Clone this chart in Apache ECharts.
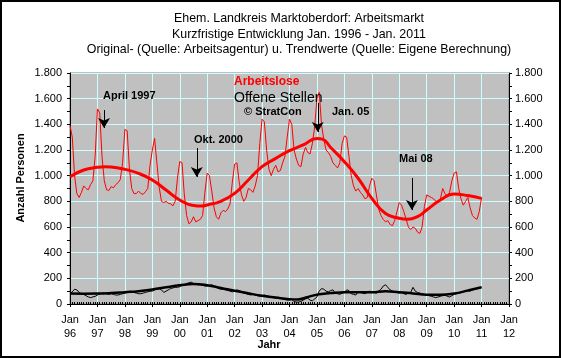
<!DOCTYPE html>
<html><head><meta charset="utf-8">
<script src="https://cdn.jsdelivr.net/npm/echarts@6/dist/echarts.min.js"></script>
<style>html,body{margin:0;padding:0;background:#fff}#c{width:561px;height:358px}</style>
</head><body><div id="c"></div><script>
// Monthly values starting Jan 1996 (one per month) up to Jan 2011
const startYear = 1996;
const arbeitslose = [
  1390,1300,1000,860,830,870,920,900,890,930,960,1150,
  1520,1490,1150,960,890,885,915,905,930,945,970,1100,
  1360,1350,1050,900,860,860,880,860,855,875,900,1080,
  1200,1290,1100,910,800,790,800,785,780,765,800,980,
  1110,1100,850,690,625,640,680,640,650,660,690,870,
  1020,1000,880,750,680,660,710,730,720,740,780,950,
  1090,1100,950,850,800,830,900,890,870,920,1000,1250,
  1440,1420,1200,1050,1000,1050,1080,1030,1040,1100,1150,1300,
  1440,1400,1200,1130,1080,1070,1170,1220,1180,1170,1250,1380,
  1600,1650,1400,1280,1200,1180,1150,1100,1080,1060,1100,1250,
  1310,1300,1150,1000,920,880,900,870,850,820,830,920,
  980,960,850,740,690,660,640,650,620,610,650,720,
  790,770,720,660,600,580,600,590,560,550,600,760,
  850,840,830,820,800,790,820,900,860,840,870,960,
  1020,1030,900,820,770,800,830,750,690,670,660,720,
  830
];
const offeneStellen = [
  80,95,115,110,90,80,75,65,55,50,55,60,
  70,80,85,85,80,75,80,75,70,70,75,80,
  85,90,95,95,90,85,80,80,85,90,95,100,
  100,110,115,120,110,90,100,110,120,125,130,130,
  135,145,150,160,165,170,160,155,150,150,145,140,
  140,145,150,140,130,120,115,115,110,105,100,95,
  100,110,105,95,85,80,75,70,75,70,65,60,
  65,70,65,60,55,50,45,50,45,40,35,30,
  30,35,20,15,15,20,30,40,45,30,25,40,
  55,100,120,115,100,95,105,110,85,80,75,85,
  90,110,105,80,75,70,95,90,85,80,90,100,
  95,90,85,100,115,140,150,130,110,100,95,90,
  85,90,80,75,85,90,130,100,90,85,80,75,
  70,65,60,55,50,55,60,65,70,60,55,65,
  75,80,85,90,95,100,105,100,110,115,120,125,
  130
];
// Trend values (read at selected dates, decimal years)
const trendAlDates = [1996,1996.5,1997,1997.3,1997.5,1998,1998.5,1999,1999.5,2000,2000.5,2000.8,2001,2001.5,2002,2002.5,2003,2003.5,2004,2004.5,2005,2005.2,2005.5,2006,2006.5,2007,2007.5,2008,2008.3,2008.7,2009,2009.5,2010,2010.5,2011];
const trendAlValues = [992,1044,1065,1070,1068,1049,1018,966,888,810,768,764,772,800,862,966,1070,1135,1195,1239,1290,1285,1220,1109,980,823,705,668,660,685,733,810,857,845,823];
const trendOsDates = [1996,1996.5,1997,1997.5,1998,1998.5,1999,1999.5,2000,2000.5,2001,2001.5,2002,2002.5,2003,2003.5,2004,2004.3,2004.6,2005,2005.5,2006,2006.5,2007,2007.5,2008,2008.5,2009,2009.5,2010,2010.5,2011];
const trendOsValues = [81,80,81,85,92,100,113,130,146,155,146,125,103,83,65,50,38,36,50,73,85,92,92,92,100,92,82,73,72,81,105,130];
const xTickLabels = ['96','97','98','99','00','01','02','03','04','05','06','07','08','09','10','11','12'];
const titleLines = ['Ehem. Landkreis Marktoberdorf: Arbeitsmarkt','Kurzfristige Entwicklung Jan. 1996 - Jan. 2011','Original- (Quelle: Arbeitsagentur) u. Trendwerte (Quelle: Eigene Berechnung)'];
// Arrow annotations: [date, from value, to value]
const arrows = [[1997.24,1511,1371],[2000.62,1215,990],[2005.03,1566,1340],[2008.46,982,732]];

const FONT = 'Arial, "Liberation Sans", sans-serif';
const fmtY = v => v >= 1000 ? String(v).replace(/(\d)(\d{3})$/, '$1.$2') : String(v);

const chart = echarts.init(document.getElementById('c'));
const yAxisBase = {
  type: 'value', min: 0, max: 1800, interval: 200,
  axisLine: {show: true, lineStyle: {color: '#000', width: 1}},
  axisTick: {show: true, length: 3, lineStyle: {color: '#000'}},
  minorTick: {show: true, splitNumber: 2, length: 3, lineStyle: {color: '#000'}},
  axisLabel: {formatter: fmtY, color: '#000', fontFamily: FONT, fontSize: 11}
};
chart.setOption({
  animation: false,
  grid: {left: 70, right: 52, top: 73, bottom: 54, show: true, backgroundColor: '#c0c0c0', borderColor: '#808080', borderWidth: 1},
  xAxis: [{
    type: 'value', min: 1996, max: 2012, interval: 1,
    axisLine: {show: true, onZero: false, lineStyle: {color: '#000'}},
    axisTick: {show: true, length: 3, lineStyle: {color: '#000'}},
    splitLine: {show: true, lineStyle: {color: '#ccffff', width: 1}},
    axisLabel: {color: '#000', fontFamily: FONT, fontSize: 11, lineHeight: 14, margin: 9,
      formatter: v => 'Jan\n' + xTickLabels[Math.round(v - startYear)]}
  }, {
    type: 'value', min: 1996, max: 2012, interval: 1, position: 'bottom',
    axisLine: {show: false}, axisLabel: {show: false}, splitLine: {show: false},
    axisTick: {show: true, inside: true, length: 2, lineStyle: {color: '#000'}},
    minorTick: {show: true, splitNumber: 12, length: 2, lineStyle: {color: '#000'}}
  }],
  yAxis: [
    Object.assign({}, yAxisBase, {position: 'left', splitLine: {show: true, lineStyle: {color: '#ccffff', width: 1}},
      axisLabel: Object.assign({}, yAxisBase.axisLabel, {margin: 8})}),
    Object.assign({}, yAxisBase, {position: 'right', splitLine: {show: false},
      axisLabel: Object.assign({}, yAxisBase.axisLabel, {margin: 6})})
  ],
  series: [
    {type: 'line', name: 'Offene Stellen', data: offeneStellen.map((v, i) => [startYear + i / 12, v]),
      showSymbol: false, lineStyle: {color: '#000', width: 1}, z: 3},
    {type: 'line', name: 'Trend Offene Stellen', data: trendOsDates.map((d, i) => [d, trendOsValues[i]]),
      smooth: 0.5, showSymbol: false, lineStyle: {color: '#000', width: 2.5}, z: 4},
    {type: 'line', name: 'Arbeitslose', data: arbeitslose.map((v, i) => [startYear + i / 12, v]),
      showSymbol: false, lineStyle: {color: '#ff0000', width: 1}, z: 3},
    {type: 'line', name: 'Trend Arbeitslose', data: trendAlDates.map((d, i) => [d, trendAlValues[i]]),
      smooth: 0.5, showSymbol: false, lineStyle: {color: '#ff0000', width: 3}, z: 4,
      markLine: {silent: true, symbol: ['none', 'arrow'], symbolSize: [9, 10], label: {show: false},
        lineStyle: {color: '#000', width: 1, type: 'solid'},
        data: arrows.map(a => [{coord: [a[0], a[1]]}, {coord: [a[0], a[2]]}])}}
  ],
  graphic: [
    {type: 'rect', silent: true, shape: {x: 1, y: 1, width: 559, height: 356}, style: {fill: 'none', stroke: '#000', lineWidth: 2}},
    ...titleLines.map((t, i) => ({type: 'text', x: 299, y: 19 + i * 15.5, style: {text: t, align: 'center', verticalAlign: 'middle', font: '12.4px ' + FONT, fill: '#000'}})),
    {type: 'text', x: 21, y: 178, rotation: Math.PI / 2, style: {text: 'Anzahl Personen', align: 'center', verticalAlign: 'middle', font: 'bold 11px ' + FONT, fill: '#000'}},
    {type: 'text', x: 269, y: 345, style: {text: 'Jahr', align: 'center', verticalAlign: 'middle', font: 'bold 11px ' + FONT, fill: '#000'}},
    {type: 'text', x: 234, y: 82, z: 10, style: {text: 'Arbeitslose', align: 'left', verticalAlign: 'middle', font: 'bold 12px ' + FONT, fill: '#ff0000'}},
    {type: 'text', x: 234, y: 98, z: 10, style: {text: 'Offene Stellen', align: 'left', verticalAlign: 'middle', font: '14px ' + FONT, fill: '#000'}},
    {type: 'text', x: 244, y: 112, z: 10, style: {text: '© StratCon', align: 'left', verticalAlign: 'middle', font: 'bold 11px ' + FONT, fill: '#000'}},
    {type: 'text', x: 103, y: 96, z: 10, style: {text: 'April 1997', align: 'left', verticalAlign: 'middle', font: 'bold 11px ' + FONT, fill: '#000'}},
    {type: 'text', x: 194, y: 140, z: 10, style: {text: 'Okt. 2000', align: 'left', verticalAlign: 'middle', font: 'bold 11px ' + FONT, fill: '#000'}},
    {type: 'text', x: 332, y: 112, z: 10, style: {text: 'Jan. 05', align: 'left', verticalAlign: 'middle', font: 'bold 11px ' + FONT, fill: '#000'}},
    {type: 'text', x: 399, y: 159, z: 10, style: {text: 'Mai 08', align: 'left', verticalAlign: 'middle', font: 'bold 11px ' + FONT, fill: '#000'}}
  ]
});
</script></body></html>
